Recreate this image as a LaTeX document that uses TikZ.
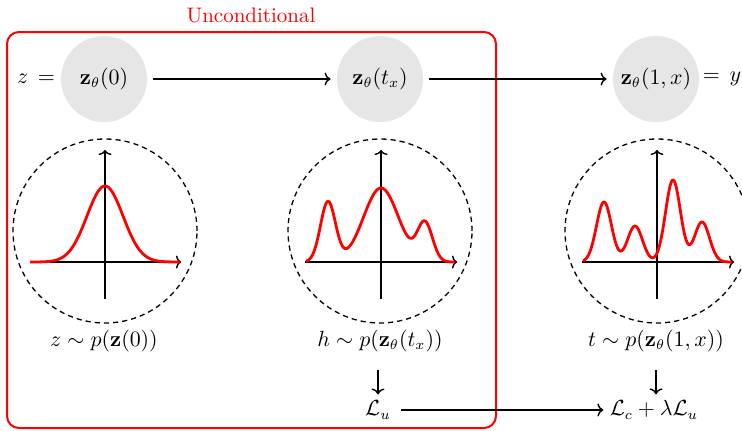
\documentclass[tikz,border=0pt]{standalone}
\usepackage{amsmath,amssymb}
\usetikzlibrary{arrows.meta}
\definecolor{nodegray}{HTML}{E6E6E6}
\begin{document}
\begin{tikzpicture}[x=0.5pt,y=-0.5pt,
  font=\fontsize{10.5}{12}\selectfont,
  latent/.style={circle,fill=nodegray,minimum size=43pt,inner sep=0pt},
  flow/.style={-{To[length=3pt,width=6.5pt]},line width=0.7pt},
  axis/.style={-{To[length=2.5pt,width=6.5pt]},line width=0.7pt},
  dens/.style={red,line width=1.4pt,line join=round},
  ring/.style={dashed,dash pattern=on 2.6pt off 2pt,line width=0.65pt},
  lbl/.style={inner sep=1pt}]
\useasboundingbox (0,0) rectangle (742,430);
% unconditional frame
\draw[red,line width=1pt,rounded corners=6pt] (7,32) rectangle (496,428);
\node[red,lbl] (unc) at (251,15) {Unconditional};
% latent nodes
\node[latent] (z0) at (104,79) {$\mathbf{z}_\theta(0)$};
\node[latent] (zt) at (380,79) {$\mathbf{z}_\theta(t_x)$};
\node[latent] (z1) at (656,79) {$\mathbf{z}_\theta(1,x)$};
\node[lbl] (zeq) at (36,79) {$z\,=$};
\node[lbl] (yeq) at (722,79) {$=\,y$};
\draw[flow] ([xshift=3pt]z0.east) -- ([xshift=-3pt]zt.west);
\draw[flow] ([xshift=3pt]zt.east) -- ([xshift=-3pt]z1.west);
% density panels
\draw[ring] (105,231) circle[radius=46pt];
\draw[ring] (380,231) circle[radius=46pt];
\draw[ring] (657,231) circle[radius=46pt];
% panel 1
\draw[axis] (105,299) -- (105,150);
\draw[axis] (30,262) -- (181,262);
\draw[dens] plot[domain=30:180,samples=120] (\x,{262-76*exp(-0.5*((\x-105)/18)^2)});
% panel 2
\draw[axis] (381,299) -- (381,150);
\draw[axis] (305,262) -- (457,262);
\draw[dens] plot[domain=306:455,samples=200] (\x,{262-(60*exp(-0.5*((\x-328)/7.5)^2)+74*exp(-0.5*((\x-381)/17.5)^2)+38*exp(-0.5*((\x-425)/7.5)^2))});
% panel 3
\draw[axis] (657,299) -- (657,150);
\draw[axis] (582,262) -- (734,262);
\draw[dens] plot[domain=583:732,samples=240] (\x,{262-(60*exp(-0.5*((\x-604)/7.5)^2)+36*exp(-0.5*((\x-635)/7.5)^2)+82*exp(-0.5*((\x-673)/7.5)^2)+40*exp(-0.5*((\x-702)/7.5)^2))});
% labels
\node[lbl] (p0) at (104,341) {$z\sim p(\mathbf{z}(0))$};
\node[lbl] (pt) at (380,341) {$h\sim p(\mathbf{z}_\theta(t_x))$};
\node[lbl] (p1) at (656,341) {$t\sim p(\mathbf{z}_\theta(1,x))$};
\node[lbl] (Lu) at (378,410) {$\mathcal{L}_u$};
\node[lbl] (Lc) at (654,410) {$\mathcal{L}_c+\lambda\mathcal{L}_u$};
\draw[flow,shorten <=8pt,shorten >=2pt] (pt.south-|Lu.north) -- (Lu.north);
\draw[flow,shorten <=8pt,shorten >=2pt] (p1.south) -- (Lc.north-|p1.south);
\draw[flow] ([xshift=4pt]Lu.east) -- ([xshift=-2pt]Lc.west);
\end{tikzpicture}
\end{document}
